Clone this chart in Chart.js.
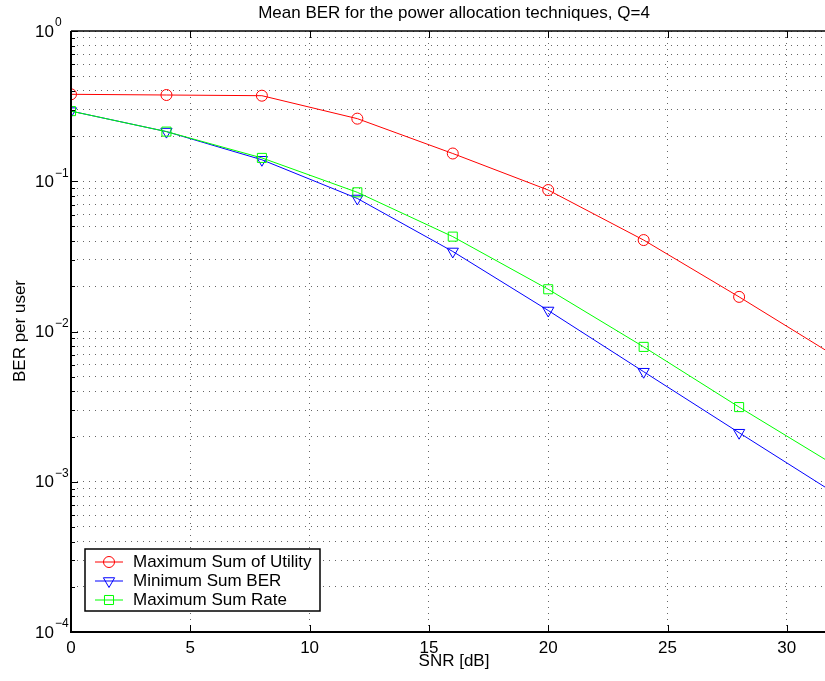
<!DOCTYPE html>
<html lang="en">
  <head>
    <meta charset="UTF-8" />
    <title>Mean BER</title>
    <style>
      body {
        margin: 0;
        background: #fff;
      }
      canvas {
        display: block;
      }
    </style>
  </head>
  <body>
    <canvas id="berChart" width="825" height="681"></canvas>
    <script src="https://cdn.jsdelivr.net/npm/chart.js"></script>
    <script>
      // values
      const snr = [0, 4, 8, 12, 16, 20, 24, 28, 32];
      const berUtility = [0.379, 0.375, 0.371, 0.261, 0.153, 0.0874, 0.0406, 0.0170, 0.0069];
      const berMinBer = [0.293, 0.214, 0.139, 0.0768, 0.0341, 0.0138, 0.0054, 0.00212, 0.00084];
      const berMaxRate = [0.293, 0.214, 0.143, 0.0844, 0.0428, 0.0191, 0.0079, 0.00314, 0.00129];
      const seriesNames = ["Maximum Sum of Utility", "Minimum Sum BER", "Maximum Sum Rate"];
      const xTicks = [0, 5, 10, 15, 20, 25, 30];
      const yDecades = [0, -1, -2, -3, -4];

      const font = "Liberation Sans, Arial, sans-serif";

      // all grid rows: 1..9 x 10^k
      let yGrid = [];
      for (let e = -4; e < 0; e++) {
        for (let m = 1; m < 10; m++) yGrid.push(m * Math.pow(10, e));
      }
      yGrid.push(1);

      const toPoints = (arr) => snr.map((x, i) => ({ x: x, y: arr[i] }));

      const decor = {
        id: "decor",
        afterDraw(chart) {
          const { ctx, chartArea: { left, right, top, bottom } } = chart;
          const xs = chart.scales.x;
          const ys = chart.scales.y;
          ctx.save();

          // inward tick marks
          ctx.strokeStyle = "#000";
          ctx.lineWidth = 1;
          ctx.beginPath();
          xTicks.forEach((t) => {
            const px = Math.round(xs.getPixelForValue(t)) + 0.5;
            ctx.moveTo(px, bottom);
            ctx.lineTo(px, bottom - 7);
            ctx.moveTo(px, top);
            ctx.lineTo(px, top + 7);
          });
          yGrid.forEach((v) => {
            const py = Math.round(ys.getPixelForValue(v)) + 0.5;
            const major = Math.abs(Math.log10(v) % 1) < 1e-9;
            ctx.moveTo(left, py);
            ctx.lineTo(left + (major ? 7 : 4), py);
          });
          ctx.stroke();

          // axes box
          ctx.lineWidth = 2;
          ctx.beginPath();
          ctx.moveTo(left, top);
          ctx.lineTo(left, bottom);
          ctx.lineTo(right, bottom);
          ctx.stroke();
          ctx.lineWidth = 1.5;
          ctx.beginPath();
          ctx.moveTo(left, top);
          ctx.lineTo(right, top);
          ctx.stroke();

          // tick labels
          ctx.fillStyle = "#000";
          ctx.font = "17px " + font;
          ctx.textAlign = "center";
          ctx.textBaseline = "middle";
          xTicks.forEach((t) => {
            ctx.fillText(String(t), xs.getPixelForValue(t), 648);
          });
          yDecades.forEach((e) => {
            const py = ys.getPixelForValue(Math.pow(10, e));
            ctx.font = "17px " + font;
            ctx.textAlign = "left";
            ctx.fillText("10", 35, py + 1);
            const w = ctx.measureText("10").width;
            ctx.font = "12px " + font;
            ctx.fillText(e === 0 ? "0" : "\u2212" + Math.abs(e), 35 + w + 1, py - 8);
          });

          // titles
          ctx.font = "17px " + font;
          ctx.textAlign = "center";
          ctx.fillText("Mean BER for the power allocation techniques, Q=4", 454, 13);
          ctx.fillText("SNR [dB]", 454, 661);
          ctx.save();
          ctx.translate(20, 331);
          ctx.rotate(-Math.PI / 2);
          ctx.fillText("BER per user", 0, 0);
          ctx.restore();

          // legend
          const lx = 85, ly = 549, lw = 235, lh = 62;
          ctx.fillStyle = "#fff";
          ctx.fillRect(lx, ly, lw, lh);
          ctx.strokeStyle = "#000";
          ctx.lineWidth = 1.5;
          ctx.strokeRect(lx, ly, lw, lh);
          const rows = [562, 581, 600];
          chart.data.datasets.forEach((ds, i) => {
            const y = rows[i];
            ctx.strokeStyle = ds.borderColor;
            ctx.lineWidth = 1;
            ctx.beginPath();
            ctx.moveTo(95, y);
            ctx.lineTo(123, y);
            ctx.stroke();
            ctx.fillStyle = "rgba(0,0,0,0)";
            Chart.helpers.drawPoint(ctx, {
              pointStyle: ds.pointStyle,
              radius: ds.pointRadius,
              rotation: ds.pointRotation || 0,
              borderWidth: 1,
            }, 109, y);
            ctx.fillStyle = "#000";
            ctx.font = "17px " + font;
            ctx.textAlign = "left";
            ctx.fillText(seriesNames[i], 133, y);
          });
          ctx.restore();
        },
      };

      const lineStyle = (color, style, radius, rotation, order) => ({
        borderColor: color,
        pointBorderColor: color,
        pointBackgroundColor: "rgba(0,0,0,0)",
        borderWidth: 1,
        pointBorderWidth: 1,
        pointStyle: style,
        pointRadius: radius,
        pointRotation: rotation,
        tension: 0,
        order: order,
      });

      const myChart = new Chart(document.getElementById("berChart"), {
        type: "line",
        data: {
          datasets: [
            { label: seriesNames[0], data: toPoints(berUtility), ...lineStyle("#ff0000", "circle", 5.5, 0, 3) },
            { label: seriesNames[1], data: toPoints(berMinBer), ...lineStyle("#0000ff", "triangle", 6.5, 180, 2) },
            { label: seriesNames[2], data: toPoints(berMaxRate), ...lineStyle("#00ff00", "rect", 6.4, 0, 1) },
          ],
        },
        options: {
          responsive: false,
          animation: false,
          layout: { autoPadding: false, padding: { left: 71, top: 31, right: 0, bottom: 49 } },
          plugins: {
            legend: { display: false },
            tooltip: { enabled: false },
          },
          scales: {
            x: {
              type: "linear",
              min: 0,
              max: 31.6,
              ticks: { display: false, stepSize: 5, includeBounds: false },
              grid: { color: "#666", lineWidth: 1, drawTicks: false },
              border: { display: false, dash: [1, 5] },
            },
            y: {
              type: "logarithmic",
              min: 1e-4,
              max: 1,
              afterBuildTicks: (scale) => {
                scale.ticks = yGrid.map((v) => ({ value: v }));
              },
              ticks: { display: false },
              grid: { color: "#666", lineWidth: 1, drawTicks: false },
              border: { display: false, dash: [1, 5] },
            },
          },
        },
        plugins: [decor],
      });
    </script>
  </body>
</html>
